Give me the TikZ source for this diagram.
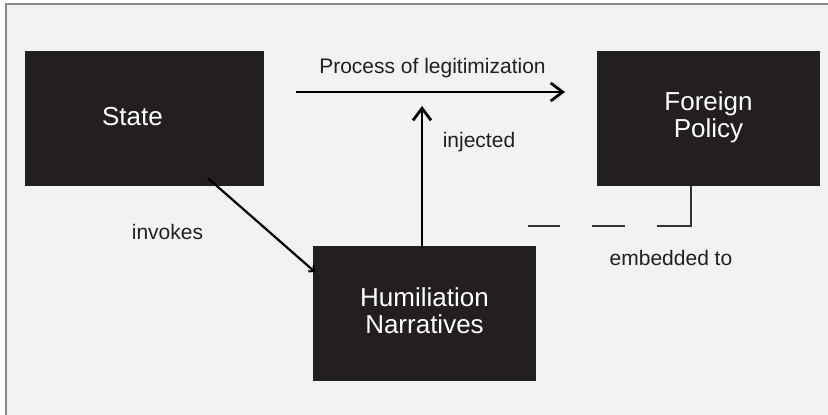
\documentclass[tikz,border=0pt]{standalone}
\usepackage{fontspec}
\setmainfont{Liberation Sans}
\usetikzlibrary{arrows.meta}
\definecolor{boxc}{HTML}{231F20}
\definecolor{bgc}{HTML}{F1F2F4}
\definecolor{framec}{HTML}{8A8A8A}
\definecolor{labc}{HTML}{231F20}
\definecolor{dashc}{HTML}{333333}
\tikzset{
  box/.style={draw=none, fill=boxc, rectangle, inner sep=0pt},
  boxtext/.style={text=white, align=center, inner sep=0pt, font=\fontsize{26}{27.5}\selectfont},
  lab/.style={text=labc, inner sep=0pt, anchor=base, font=\fontsize{21}{25}\selectfont},
  arr/.style={line width=2.8pt, black, -{Straight Barb[length=12pt,width=18pt,line width=2.8pt]}},
  thinarr/.style={line width=2.2pt, black, -{Straight Barb[length=4pt,width=8pt,line width=2pt]}},
  dashline/.style={line width=2.2pt, dashc, dash pattern=on 74pt off 32pt on 33pt off 32pt on 33pt off 200pt}
}
\begin{document}
\begin{tikzpicture}[x=1pt,y=-1pt]
\useasboundingbox (0,0) rectangle (828,415);
\fill[white] (0,0) rectangle (828,415);
\fill[bgc] (6,4) rectangle (828,415);
\draw[framec, line width=1.5pt] (5.8,415) -- (5.8,4) -- (828,4);

% boxes
\node[box, minimum width=239pt, minimum height=135pt,
      label={[boxtext, xshift=-12pt, yshift=1.8pt]center:State}] (state) at (144.5,118.5) {};
\node[box, minimum width=223pt, minimum height=135pt,
      label={[boxtext, yshift=1pt]center:Foreign\\Policy}] (fp) at (708.5,118.5) {};
\node[box, minimum width=223pt, minimum height=135pt,
      label={[boxtext, yshift=3pt]center:Humiliation\\Narratives}] (hum) at (424.5,313.5) {};

% coordinates
\coordinate (pl1) at (296,92);
\coordinate (pl2) at (565,92);
\coordinate (inj) at (422,106);
\coordinate (inv) at (315,272);
\coordinate (emb) at (528,226);

% connectors
\draw[arr] (pl1) -- (pl2);
\draw[arr] ([xshift=-2.5pt,yshift=-2pt]hum.north) -- (inj);
\draw[thinarr] ([xshift=63.5pt,yshift=8pt]state.south) -- (inv);
\draw[dashline] ([xshift=-17.5pt]fp.south) |- (emb);

% labels
\node[lab] (lproc) at (432.5,73) {Process of legitimization};
\node[lab] (linv) at (167.5,239) {invokes};
\node[lab] (linj) at (479,147) {injected};
\node[lab] (lemb) at (671,265) {embedded to};
\end{tikzpicture}
\end{document}
